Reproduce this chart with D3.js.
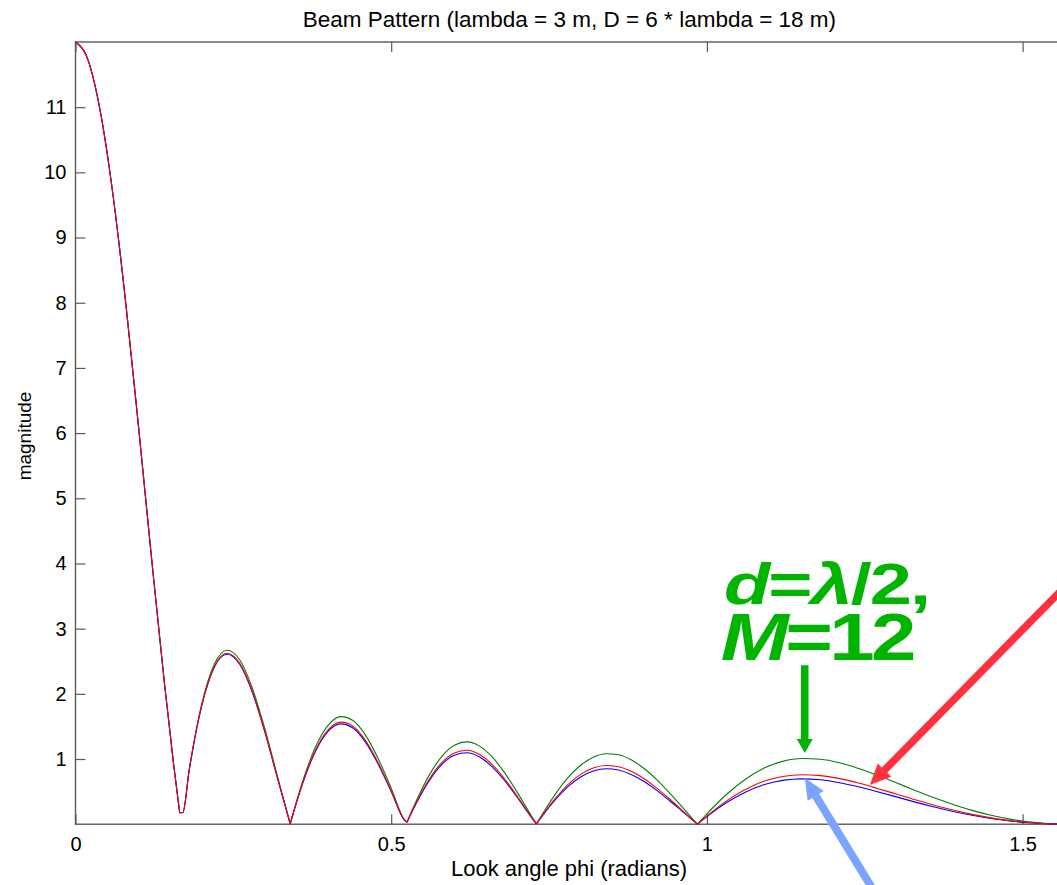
<!DOCTYPE html>
<html><head><meta charset="utf-8">
<script src="https://cdn.jsdelivr.net/npm/d3@7"></script>
<style>
body{margin:0;background:#fff;}
svg{display:block;font-family:"Liberation Sans",Arial,Helvetica,sans-serif;}
</style>
</head><body>
<svg id="chart" width="1057" height="885"></svg>
<script>
// ---- data ----
const phi = [0, 0.02, 0.04, 0.06, 0.08, 0.10, 0.12, 0.14, 0.155, 0.165, 0.17, 0.18, 0.20, 0.22, 0.24, 0.26, 0.28, 0.30, 0.32, 0.34,
  0.36, 0.38, 0.40, 0.42, 0.44, 0.46, 0.48, 0.50, 0.52, 0.525, 0.54, 0.56, 0.58, 0.60, 0.62, 0.64, 0.66, 0.68, 0.70, 0.72, 0.73,
  0.74, 0.76, 0.78, 0.80, 0.82, 0.84, 0.86, 0.88, 0.90, 0.92, 0.94, 0.96, 0.98, 0.985, 1.00, 1.03, 1.06, 1.09, 1.12, 1.15, 1.18,
  1.21, 1.24, 1.27, 1.30, 1.33, 1.36, 1.39, 1.42, 1.45, 1.48, 1.51, 1.54, 1.5708];

const blueMag = [12, 11.718, 10.896, 9.603, 7.950, 6.071, 4.116, 2.232, 0.947, 0.176, 0.178, 0.821, 1.818, 2.410, 2.607, 2.454, 2.025, 1.409, 0.701, 0.006,
  0.632, 1.117, 1.424, 1.539, 1.472, 1.248, 0.910, 0.502, 0.075, 0.029, 0.326, 0.665, 0.914, 1.058, 1.095, 1.030, 0.879, 0.663, 0.406, 0.132, 0.004,
  0.135, 0.376, 0.576, 0.725, 0.816, 0.851, 0.831, 0.764, 0.658, 0.522, 0.368, 0.205, 0.041, 0.001, 0.116, 0.324, 0.488, 0.606, 0.673, 0.696, 0.681,
  0.637, 0.574, 0.499, 0.419, 0.339, 0.264, 0.196, 0.137, 0.088, 0.050, 0.022, 0.006, 0];

const redMag = [12, 11.720, 10.898, 9.607, 7.955, 6.077, 4.122, 2.237, 0.949, 0.177, 0.179, 0.824, 1.825, 2.421, 2.622, 2.471, 2.041, 1.421, 0.708, 0.006,
  0.640, 1.133, 1.446, 1.566, 1.500, 1.274, 0.930, 0.514, 0.077, 0.030, 0.335, 0.685, 0.943, 1.094, 1.134, 1.068, 0.914, 0.691, 0.424, 0.138, 0.004,
  0.142, 0.395, 0.607, 0.765, 0.863, 0.901, 0.882, 0.812, 0.701, 0.558, 0.394, 0.220, 0.044, 0.001, 0.125, 0.350, 0.529, 0.658, 0.733, 0.759, 0.745,
  0.699, 0.631, 0.549, 0.462, 0.374, 0.292, 0.217, 0.151, 0.097, 0.055, 0.025, 0.006, 0];

const greenMag = [12, 11.720, 10.903, 9.617, 7.971, 6.096, 4.140, 2.250, 0.956, 0.178, 0.180, 0.832, 1.847, 2.458, 2.668, 2.522, 2.090, 1.461, 0.730, 0.006,
  0.665, 1.183, 1.516, 1.650, 1.587, 1.355, 0.994, 0.553, 0.083, 0.032, 0.364, 0.749, 1.037, 1.211, 1.263, 1.198, 1.031, 0.784, 0.484, 0.159, 0.005,
  0.164, 0.461, 0.713, 0.904, 1.028, 1.081, 1.065, 0.988, 0.858, 0.688, 0.489, 0.274, 0.055, 0.001, 0.158, 0.448, 0.683, 0.858, 0.964, 1.007, 0.996,
  0.942, 0.856, 0.751, 0.635, 0.518, 0.405, 0.303, 0.212, 0.137, 0.078, 0.035, 0.009, 0];

const xTickValues = [0, 0.5, 1, 1.5];
const xTickLabels = ["0", "0.5", "1", "1.5"];
const yTickValues = [1, 2, 3, 4, 5, 6, 7, 8, 9, 10, 11];
const yTickLabels = ["1", "2", "3", "4", "5", "6", "7", "8", "9", "10", "11"];

const titleText = "Beam Pattern (lambda = 3 m, D = 6 * lambda = 18 m)";
const xLabelText = "Look angle phi (radians)";
const yLabelText = "magnitude";

// ---- layout ----
const svg = d3.select("#chart");
const mLeft = 75.5, mRight = 1067.3, mTop = 42, mBottom = 824.2;
const x = d3.scaleLinear().domain([0, Math.PI / 2]).range([mLeft, mRight]);
const y = d3.scaleLinear().domain([0, 12]).range([mBottom, mTop]);
const axisColor = "#5a5a5a";

// frame
svg.append("rect").attr("x", mLeft).attr("y", mTop).attr("width", mRight - mLeft).attr("height", mBottom - mTop)
  .attr("fill", "none").attr("stroke", axisColor).attr("stroke-width", 1.4);

// axes
const gx = svg.append("g").attr("transform", `translate(0,${mBottom})`)
  .call(d3.axisBottom(x).tickValues(xTickValues).tickFormat((d, i) => xTickLabels[i]).tickSizeInner(-10).tickSizeOuter(0).tickPadding(13));
const gxTop = svg.append("g").attr("transform", `translate(0,${mTop})`)
  .call(d3.axisTop(x).tickValues(xTickValues).tickFormat("").tickSizeInner(-10).tickSizeOuter(0));
const gy = svg.append("g").attr("transform", `translate(${mLeft},0)`)
  .call(d3.axisLeft(y).tickValues(yTickValues).tickFormat((d, i) => yTickLabels[i]).tickSizeInner(-10).tickSizeOuter(0).tickPadding(9));
const gyR = svg.append("g").attr("transform", `translate(${mRight},0)`)
  .call(d3.axisRight(y).tickValues(yTickValues).tickFormat("").tickSizeInner(-10).tickSizeOuter(0));
[gx, gxTop, gy, gyR].forEach(g => {
  g.select(".domain").remove();
  g.selectAll(".tick line").attr("stroke", axisColor).attr("stroke-width", 1.2);
  g.selectAll(".tick text").attr("fill", "#000").style("font-size", "20px").style("font-family", '"Liberation Sans",Arial,sans-serif');
});

// titles
svg.append("text").attr("x", (mLeft + mRight) / 2 - 2).attr("y", 27).attr("text-anchor", "middle")
  .style("font-size", "22.5px").attr("fill", "#000").text(titleText);
svg.append("text").attr("x", 569).attr("y", 876).attr("text-anchor", "middle")
  .style("font-size", "22px").attr("fill", "#000").text(xLabelText);
svg.append("text").attr("transform", "translate(31,436) rotate(-90)").attr("text-anchor", "middle")
  .style("font-size", "19px").attr("fill", "#000").text(yLabelText);

// series lines (split into lobes at the nulls so the nulls stay sharp)
const series = [
  { name: "d=lambda/2, M=12", values: greenMag, color: "#008000" },
  { name: "continuous", values: blueMag, color: "#0000ff" },
  { name: "d=lambda/4, M=24", values: redMag, color: "#ff0000" }
];
const line = d3.line().x(d => x(d[0])).y(d => y(d[1])).curve(d3.curveMonotoneX);
series.forEach(s => {
  const pts = phi.map((p, i) => [p, s.values[i]]);
  const cuts = [0];
  for (let i = 1; i < pts.length - 1; i++) {
    if (pts[i][1] <= pts[i - 1][1] && pts[i][1] <= pts[i + 1][1]) cuts.push(i);
  }
  cuts.push(pts.length - 1);
  let dStr = "";
  for (let k = 0; k < cuts.length - 1; k++) {
    dStr += line(pts.slice(cuts[k], cuts[k + 1] + 1));
  }
  svg.append("path").attr("d", dStr).attr("fill", "none").attr("stroke", s.color).attr("stroke-width", 1.1);
});

// ---- annotations (positions in data units) ----
const annGreen = "#00b400";
function arrow(p1, p2, w, hl, hw, color) {
  const x1 = x(p1[0]), y1 = y(p1[1]), x2 = x(p2[0]), y2 = y(p2[1]);
  const dx = x2 - x1, dy = y2 - y1, L = Math.hypot(dx, dy);
  const ux = dx / L, uy = dy / L, nx = -uy, ny = ux;
  const bx = x2 - ux * hl, by = y2 - uy * hl;
  const pts = [
    [x1 + nx * w / 2, y1 + ny * w / 2], [bx + nx * w / 2, by + ny * w / 2], [bx + nx * hw / 2, by + ny * hw / 2],
    [x2, y2],
    [bx - nx * hw / 2, by - ny * hw / 2], [bx - nx * w / 2, by - ny * w / 2], [x1 - nx * w / 2, y1 - ny * w / 2]
  ];
  svg.append("polygon").attr("points", pts.map(p => p.join(",")).join(" ")).attr("fill", color);
}
arrow([1.155, 2.44], [1.155, 1.094], 7.5, 14, 16, annGreen);
arrow([1.590, 3.87], [1.258, 0.60], 7.5, 21, 19, "#ff313f");
arrow([1.273, -1.16], [1.155, 0.71], 8, 21, 19, "#7aa5ff");

const t1 = svg.append("text").attr("transform", `translate(${x(1.027)},${y(3.38)}) scale(1.33,1)`)
  .style("font-size", "57px").style("font-weight", "bold").attr("fill", annGreen).style("letter-spacing", "-1.5px");
t1.append("tspan").style("font-style", "italic").text("d");
t1.append("tspan").text("=");
t1.append("tspan").style("font-style", "italic").text("λ");
t1.append("tspan").text("/2,");
const t2 = svg.append("text").attr("transform", `translate(${x(1.022)},${y(2.52)}) scale(1.22,1)`)
  .style("font-size", "67px").style("font-weight", "bold").attr("fill", annGreen).style("letter-spacing", "-3px");
t2.append("tspan").style("font-style", "italic").text("M");
t2.append("tspan").text("=12");
</script>
</body></html>
